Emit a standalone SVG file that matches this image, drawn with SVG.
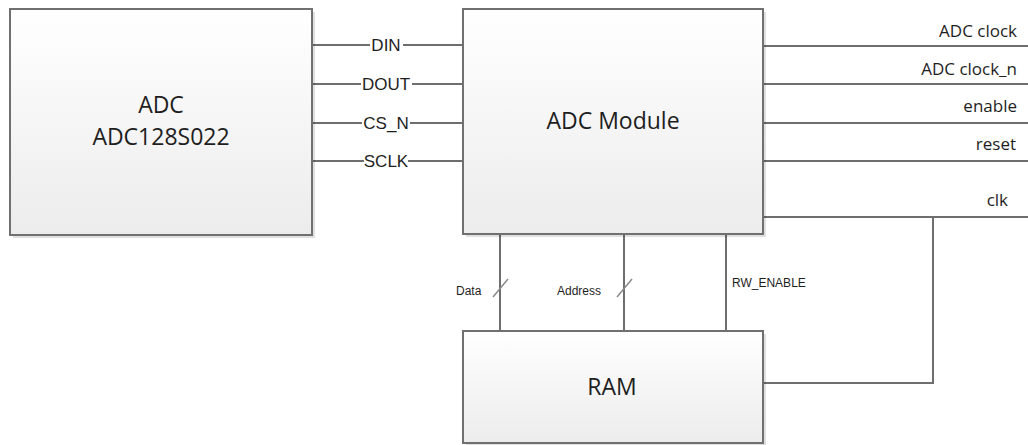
<svg xmlns="http://www.w3.org/2000/svg" width="1028" height="445" viewBox="0 0 1028 445">
<defs>
<linearGradient id="boxfill" x1="0" y1="0" x2="0" y2="1">
<stop offset="0" stop-color="#ffffff"/>
<stop offset="1" stop-color="#ececec"/>
</linearGradient>
<style>
.box{fill:url(#boxfill);stroke:#707070;stroke-width:2}
.shadow{fill:#000;opacity:0.12}
.wire{fill:none;stroke:#6e6e6e;stroke-width:2}
.slash{fill:none;stroke:#8a8a8a;stroke-width:1.5}
.title{font-family:"Open Sans","Noto Sans",sans-serif;font-size:23px;fill:#1e1e1e;text-anchor:middle}
.pin{font-family:"Liberation Sans",Arial,sans-serif;font-size:17px;fill:#1e1e1e;text-anchor:middle}
.out{font-family:"Open Sans","Noto Sans",sans-serif;font-size:17px;fill:#1e1e1e;text-anchor:end}
.bus{font-family:"Liberation Sans",Arial,sans-serif;font-size:12px;fill:#1e1e1e}
</style>
</defs>
<rect width="1028" height="445" fill="#ffffff"/>
<g id="connectors">
<line class="wire" x1="312" y1="45" x2="370" y2="45"/>
<line class="wire" x1="403" y1="45" x2="463" y2="45"/>
<line class="wire" x1="312" y1="84" x2="361" y2="84"/>
<line class="wire" x1="412" y1="84" x2="463" y2="84"/>
<line class="wire" x1="312" y1="123" x2="362" y2="123"/>
<line class="wire" x1="410" y1="123" x2="463" y2="123"/>
<line class="wire" x1="312" y1="161" x2="364" y2="161"/>
<line class="wire" x1="408" y1="161" x2="463" y2="161"/>
<line class="wire" x1="763" y1="46" x2="1028" y2="46"/>
<line class="wire" x1="763" y1="84" x2="1028" y2="84"/>
<line class="wire" x1="763" y1="123" x2="1028" y2="123"/>
<line class="wire" x1="763" y1="161" x2="1028" y2="161"/>
<line class="wire" x1="763" y1="217" x2="1028" y2="217"/>
<polyline class="wire" points="933,217 933,383 763,383"/>
<line class="wire" x1="500" y1="234" x2="500" y2="331"/>
<line class="wire" x1="624" y1="234" x2="624" y2="331"/>
<line class="wire" x1="726" y1="234" x2="726" y2="331"/>
<line class="slash" x1="493" y1="297" x2="508" y2="279"/>
<line class="slash" x1="617" y1="297" x2="632" y2="279"/>
<text class="pin" x="386" y="51">DIN</text>
<text class="pin" x="386" y="90">DOUT</text>
<text class="pin" x="386" y="129">CS_N</text>
<text class="pin" x="386" y="167">SCLK</text>
<text class="out" x="1017" y="37">ADC clock</text>
<text class="out" x="1017" y="75">ADC clock_n</text>
<text class="out" x="1017" y="112">enable</text>
<text class="out" x="1016" y="150">reset</text>
<text class="out" x="1008" y="206">clk</text>
<text class="bus" x="456" y="295">Data</text>
<text class="bus" x="557" y="295">Address</text>
<text class="bus" x="732" y="287">RW_ENABLE</text>
</g>
<g id="adc">
<rect class="shadow" x="13" y="12" width="302" height="226"/>
<rect class="box" x="10" y="9" width="302" height="226"/>
<text class="title" x="161" y="113">ADC</text>
<text class="title" x="161" y="145">ADC128S022</text>
</g>
<g id="adc-module">
<rect class="shadow" x="466" y="12" width="300" height="225"/>
<rect class="box" x="463" y="9" width="300" height="225"/>
<text class="title" x="613" y="129">ADC Module</text>
</g>
<g id="ram">
<rect class="shadow" x="466" y="334" width="300" height="112"/>
<rect class="box" x="463" y="331" width="300" height="112"/>
<text class="title" x="612" y="395">RAM</text>
</g>
</svg>
